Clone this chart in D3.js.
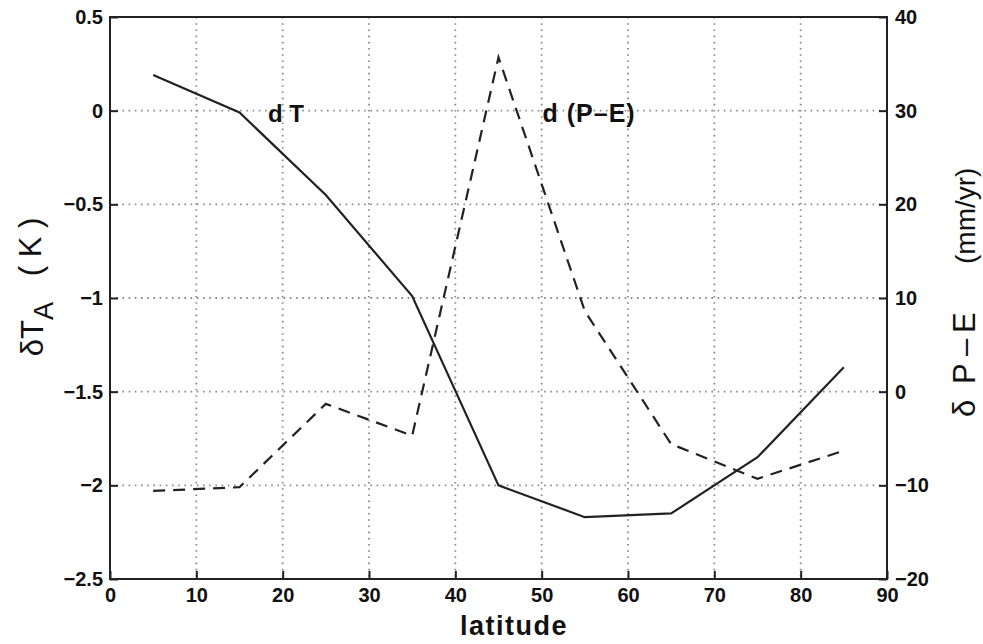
<!DOCTYPE html>
<html>
<head>
<meta charset="utf-8">
<script src="https://cdn.jsdelivr.net/npm/d3@7"></script>
<style>
  body { margin: 0; background: #fff; }
  text { font-family: "Liberation Sans", Arial, sans-serif; fill: #111; }
</style>
</head>
<body>
<div id="chart"></div>
<script>
// latitude points (centres of 10-degree bands)
const latitude = [5, 15, 25, 35, 45, 55, 65, 75, 85];
// temperature change, K (left axis)
const dT = [0.19, -0.01, -0.45, -0.99, -2.0, -2.17, -2.15, -1.85, -1.37];
// P-E change, mm/yr (right axis)
const dPE = [-10.6, -10.2, -1.3, -4.7, 35.7, 8.6, -5.6, -9.3, -6.3];

const xTicks = [0, 10, 20, 30, 40, 50, 60, 70, 80, 90];
const yLeftTicks = [0.5, 0, -0.5, -1, -1.5, -2, -2.5];
const yRightTicks = [40, 30, 20, 10, 0, -10, -20];

const W = 983, H = 644;
const margin = { top: 17, right: 96, bottom: 65, left: 110 };
const width = W - margin.left - margin.right;
const height = H - margin.top - margin.bottom;

const svg = d3.select("#chart").append("svg")
    .attr("width", W).attr("height", H);
const g = svg.append("g")
    .attr("transform", `translate(${margin.left},${margin.top})`);

const x = d3.scaleLinear().domain([0, 90]).range([0, width]);
const yL = d3.scaleLinear().domain([-2.5, 0.5]).range([height, 0]);
const yR = d3.scaleLinear().domain([-20, 40]).range([height, 0]);

const fmt = d => (d < 0 ? "\u2212" + Math.abs(d) : String(d));

// dotted grid
g.append("g").selectAll("line")
    .data(xTicks.slice(1, -1)).enter().append("line")
    .attr("x1", d => x(d)).attr("x2", d => x(d))
    .attr("y1", 0).attr("y2", height)
    .attr("stroke", "#8a8a8a").attr("stroke-width", 1.8)
    .attr("stroke-dasharray", "1.6,4.6");
g.append("g").selectAll("line")
    .data(yLeftTicks.slice(1, -1)).enter().append("line")
    .attr("x1", 0).attr("x2", width)
    .attr("y1", d => yL(d)).attr("y2", d => yL(d))
    .attr("stroke", "#8a8a8a").attr("stroke-width", 1.8)
    .attr("stroke-dasharray", "1.6,4.6");

// axes with inward ticks
const axB = g.append("g").attr("transform", `translate(0,${height})`)
    .call(d3.axisBottom(x).tickValues(xTicks).tickSize(-8).tickPadding(9).tickFormat(fmt));
const axL = g.append("g")
    .call(d3.axisLeft(yL).tickValues(yLeftTicks).tickSize(-8).tickPadding(7).tickFormat(fmt));
const axR = g.append("g").attr("transform", `translate(${width},0)`)
    .call(d3.axisRight(yR).tickValues(yRightTicks).tickSize(-8).tickPadding(8).tickFormat(fmt));
[axB, axL, axR].forEach(a => {
    a.selectAll(".domain").remove();
    a.selectAll("line").attr("stroke", "#222").attr("stroke-width", 2);
    a.selectAll("text").style("font-size", "20px").style("font-weight", "bold").attr("fill", "#111");
});

// box
g.append("rect").attr("width", width).attr("height", height)
    .attr("fill", "none").attr("stroke", "#222").attr("stroke-width", 2);

// lines
const lineT = d3.line().x((d, i) => x(latitude[i])).y(d => yL(d));
const linePE = d3.line().x((d, i) => x(latitude[i])).y(d => yR(d));
g.append("path").datum(dT).attr("d", lineT)
    .attr("fill", "none").attr("stroke", "#222").attr("stroke-width", 2.2);
g.append("path").datum(dPE).attr("d", linePE)
    .attr("fill", "none").attr("stroke", "#222").attr("stroke-width", 2.2)
    .attr("stroke-dasharray", "12,8");

// in-plot labels
g.append("text").attr("x", x(18.3)).attr("y", yL(0) + 11)
    .style("font-size", "24px").style("font-weight", "bold").text("d T");
g.append("text").attr("x", x(50.1)).attr("y", yL(0) + 11)
    .style("font-size", "25px").style("font-weight", "bold")
    .style("letter-spacing", "1px").text("d (P\u2013E)");

// axis titles
svg.append("text").attr("x", 514).attr("y", 635)
    .attr("text-anchor", "middle").style("font-size", "27px")
    .style("font-weight", "bold").style("letter-spacing", "1.5px").text("latitude");

svg.append("text")
    .attr("transform", "translate(43,287) rotate(-90)")
    .attr("text-anchor", "middle").style("font-size", "31px")
    .style("white-space", "pre")
    .call(t => {
        t.append("tspan").text("\u03b4T");
        t.append("tspan").attr("dy", "0.38em").style("font-size", "27px").text("A");
        t.append("tspan").attr("dy", "-0.38em").text("   ( K )");
    });

// right title: pieces placed along the rotated baseline
const rt = svg.append("text")
    .attr("transform", "translate(975,417) rotate(-90)")
    .style("font-size", "31px");
rt.append("tspan").attr("x", 0).text("\u03b4");
rt.append("tspan").attr("x", 33).text("P");
rt.append("tspan").attr("x", 61).text("\u2013");
rt.append("tspan").attr("x", 84).text("E");
rt.append("tspan").attr("x", 153).style("font-size", "28px").text("(mm/yr)");
</script>
</body>
</html>
